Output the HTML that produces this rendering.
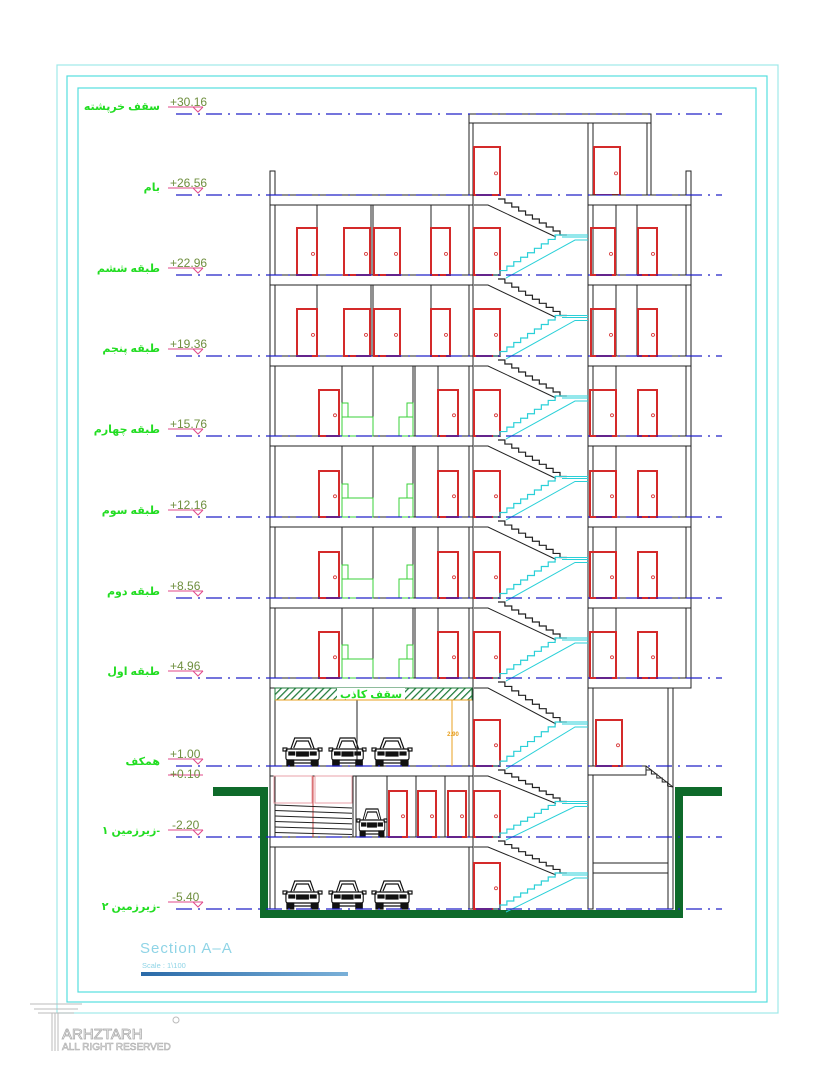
<!DOCTYPE html>
<html><head><meta charset="utf-8">
<style>
html,body{margin:0;padding:0;background:#fff;}
svg{display:block;}
.lbl{font-family:"Liberation Sans","DejaVu Sans",sans-serif;font-weight:bold;font-size:11px;fill:#22dd22;}
.val{font-family:"Liberation Sans",sans-serif;font-size:12px;fill:#6f8f3f;}
</style></head>
<body>
<svg id="s" width="835" height="1080" viewBox="0 0 835 1080" xmlns="http://www.w3.org/2000/svg">
<defs>
<pattern id="hatch" width="5" height="5" patternUnits="userSpaceOnUse" patternTransform="rotate(45)">
<rect width="5" height="5" fill="#fff"/><line x1="0" y1="0" x2="0" y2="5" stroke="#1e7a3a" stroke-width="2.5"/>
</pattern>
<linearGradient id="bar" x1="0" x2="1"><stop offset="0" stop-color="#2a6aa8"/><stop offset="1" stop-color="#7ab0d8"/></linearGradient>
</defs>
<rect x="57" y="65" width="721" height="948" fill="none" stroke="#9fe8e8" stroke-width="1.2"/>
<rect x="67" y="76" width="700" height="926" fill="none" stroke="#55dede" stroke-width="1.2"/>
<rect x="78" y="88" width="678" height="904" fill="none" stroke="#55dede" stroke-width="1.2"/>
<g id="g"></g>
<g text-anchor="end">
<text class="lbl" x="160" y="110">سقف خرپشته</text>
<text class="lbl" x="160" y="191">بام</text>
<text class="lbl" x="160" y="272">طبقه ششم</text>
<text class="lbl" x="160" y="352">طبقه پنجم</text>
<text class="lbl" x="160" y="433">طبقه چهارم</text>
<text class="lbl" x="160" y="514">طبقه سوم</text>
<text class="lbl" x="160" y="595">طبقه دوم</text>
<text class="lbl" x="160" y="675">طبقه اول</text>
<text class="lbl" x="160" y="765">همکف</text>
<text class="lbl" x="160" y="834">زیرزمین ۱-</text>
<text class="lbl" x="160" y="910">زیرزمین ۲-</text>
</g>
<g>
<text class="val" x="170" y="106">+30.16</text>
<text class="val" x="170" y="187">+26.56</text>
<text class="val" x="170" y="267">+22.96</text>
<text class="val" x="170" y="348">+19.36</text>
<text class="val" x="170" y="428">+15.76</text>
<text class="val" x="170" y="509">+12.16</text>
<text class="val" x="170" y="590">+8.56</text>
<text class="val" x="170" y="670">+4.96</text>
<text class="val" x="170" y="758">+1.00</text>
<text class="val" x="170" y="778">+0.10</text>
<text class="val" x="172" y="829">-2.20</text>
<text class="val" x="172" y="901">-5.40</text>
</g>
<rect x="275" y="688" width="197" height="12" fill="url(#hatch)" stroke="#1e7a3a" stroke-width="1"/>
<rect x="337" y="688" width="68" height="12" fill="#fff"/>
<text x="371" y="698" text-anchor="middle" style="font-family:'Liberation Sans','DejaVu Sans',sans-serif;font-size:11px;font-weight:bold;fill:#22dd22">سقف کاذب</text>
<line x1="275" y1="700" x2="472" y2="700" stroke="#e8a020" stroke-width="1"/>
<line x1="452" y1="700" x2="452" y2="766" stroke="#e8a020" stroke-width="1"/>
<text x="453" y="736" text-anchor="middle" style="font-family:'Liberation Sans',sans-serif;font-size:6px;font-weight:bold;fill:#e8a020">2.90</text>
<text x="140" y="953" style="font-family:'Liberation Sans',sans-serif;font-size:15px;fill:#8fd4e6;letter-spacing:1px">Section A–A</text>
<text x="142" y="968" style="font-family:'Liberation Sans',sans-serif;font-size:7.5px;fill:#8fd4e6">Scale : 1\100</text>
<rect x="141" y="972" width="207" height="4" fill="url(#bar)"/>
<g fill="none" stroke="#bbb" stroke-width="1">
<line x1="30" y1="1004" x2="82" y2="1004"/><line x1="34" y1="1009" x2="78" y2="1009"/><line x1="38" y1="1013" x2="74" y2="1013"/>
<line x1="52" y1="1013" x2="52" y2="1051"/><line x1="55" y1="1013" x2="55" y2="1051"/><line x1="58" y1="1013" x2="58" y2="1051"/>
<circle cx="176" cy="1020" r="3"/>
</g>
<text x="62" y="1039" style="font-family:'Liberation Sans',sans-serif;font-size:15px;fill:#fff;stroke:#aaa;stroke-width:0.8">ARHZTARH</text>
<text x="62" y="1050" style="font-family:'Liberation Sans',sans-serif;font-size:10px;fill:#fff;stroke:#aaa;stroke-width:0.6">ALL RIGHT RESERVED</text>
</svg>
<script>
(function(){
var g=document.getElementById('g'),h='';
function L(x1,y1,x2,y2,c,w,d){h+='<line x1="'+x1+'" y1="'+y1+'" x2="'+x2+'" y2="'+y2+'" stroke="'+(c||'#222')+'" stroke-width="'+(w||1)+'"'+(d?' stroke-dasharray="'+d+'"':'')+'/>';}
function R(x,y,w,hh,c,f,sw){h+='<rect x="'+x+'" y="'+y+'" width="'+w+'" height="'+hh+'" fill="'+(f||'#fff')+'" stroke="'+(c||'#222')+'" stroke-width="'+(sw||1)+'"/>';}
function P(pts,c,w){h+='<polyline points="'+pts+'" fill="none" stroke="'+c+'" stroke-width="'+(w||1)+'"/>';}
function door(x,y,w,b){R(x,y,w,b-y,'#d42a2a','none',2);h+='<circle cx="'+(x+w-4)+'" cy="'+(y+(b-y)*0.55)+'" r="1.5" fill="none" stroke="#d42a2a" stroke-width="0.8"/>';}
var F=[195,275,356,436,517,598,678,766,837,909];
R(213,787,55,9,'none','#0e6a2a');R(260,787,8,131,'none','#0e6a2a');R(260,910,423,8,'none','#0e6a2a');R(675,787,8,131,'none','#0e6a2a');R(675,787,47,9,'none','#0e6a2a');
R(469,114,182,9);R(469,123,4,72);R(647,123,4,72);R(588,123,5,72);
door(474,147,26,195);door(594,147,26,195);
R(270,171,5,738);R(686,171,5,517);
R(469,195,4,714);R(588,195,5,483);
R(588,688,5,221);R(668,688,5,221);
for(var i=0;i<7;i++){R(270,F[i],203,10);R(588,F[i],103,10);}
R(270,766,203,10);R(270,837,203,10);
R(588,766,58,9);P('646,766 673,787 673,775','#222',1);
R(593,863,75,10);
var sp='';for(var k=0;k<5;k++){sp+=(646+k*5.4)+','+(766+k*4)+' '+(646+k*5.4)+','+(770+k*4)+' ';}P(sp+'673,787','#222',1);
[[195,275],[275,356]].forEach(function(p){var t=p[0]+10,b=p[1];
[317,431,616,637].forEach(function(x){L(x,t,x,b);});R(371,t,2,b-t);
door(297,b-47,20,b);door(344,b-47,26,b);door(374,b-47,26,b);door(431,b-47,19,b);door(474,b-47,26,b);door(591,b-47,24,b);door(638,b-47,19,b);});
[[356,436],[436,517],[517,598],[598,678]].forEach(function(p){var t=p[0]+10,b=p[1];
[342,373,438,616].forEach(function(x){L(x,t,x,b);});R(413,t,2,b-t);
door(319,b-46,20,b);door(438,b-46,20,b);door(474,b-46,26,b);door(590,b-46,26,b);door(638,b-46,19,b);
R(342,b-33,6,14,'#3ad03a','none',1);R(342,b-19,31,19,'#3ad03a','none',1);
R(407,b-33,6,14,'#3ad03a','none',1);R(399,b-19,14,19,'#3ad03a','none',1);});
L(357,700,357,766);door(474,720,26,766);door(596,720,26,766);
R(353,776,3,61);[387,416,445].forEach(function(x){L(x,776,x,837);});
door(389,791,18,837);door(418,791,18,837);door(448,791,18,837);door(474,791,26,837);
R(274,776,38,27,'#e8a0a8','none',1);R(315,776,37,27,'#e8a0a8','none',1);L(313,776,313,837,'#c44',1);
for(var s=0;s<6;s++){L(275,805+s*5.5,352,808+s*5.3,'#222',1);}
door(474,863,26,909);
for(var i=0;i<9;i++){var T=F[i],B=F[i+1],hh=B-T,Lm=T+hh/2;
 var n=9,pts='';for(var k=0;k<=n;k++){var x=498+k*(62/n),y=T+4+k*((Lm-T-4)/n);pts+=x+','+y+' '+(x+62/n)+','+y+' ';}
 P(pts,'#222',1.2);P('474,'+(T+10)+' 488,'+(T+10)+' 556,'+(Lm+2),'#222',1);
 pts='';for(var k=0;k<=n;k++){var x=562-k*(62/n),y=Lm+k*((B-Lm)/n);pts+=x+','+y+' '+(x-62/n)+','+y+' ';}
 P(pts,'#2ad0d8',1.2);P('588,'+(Lm+5)+' 575,'+(Lm+5)+' 506,'+(B+3),'#2ad0d8',1);
 L(562,Lm,588,Lm,'#2ad0d8',1);L(562,Lm+2,588,Lm+2,'#2ad0d8',1);}
function car(x,b,w){var c='#111';var s=w/40;
 h+='<g transform="translate('+x+','+(b-31)+') scale('+s+',1)" fill="none" stroke="'+c+'" stroke-width="1.2">'+
 '<path d="M8 14 L12 3 L28 3 L32 14"/><path d="M11 13 L14 6 L26 6 L29 13"/><rect x="3" y="14" width="34" height="11" rx="2"/>'+
 '<rect x="0" y="13" width="4" height="3"/><rect x="36" y="13" width="4" height="3"/><rect x="6" y="17" width="6" height="3" fill="#111"/><rect x="28" y="17" width="6" height="3" fill="#111"/>'+
 '<rect x="14" y="17" width="12" height="4" fill="#111"/><rect x="4" y="25" width="7" height="6" fill="#111"/><rect x="29" y="25" width="7" height="6" fill="#111"/><line x1="10" y1="28" x2="30" y2="28"/></g>';}
[[283,39],[329,37],[372,40]].forEach(function(c){car(c[0],766,c[1]);car(c[0],909,c[1]);});
car(357,837,30);
[114,195,275,356,436,517,598,678,766,837,909].forEach(function(y){L(176,y,722,y,'#2020c8',1.2,'16,6,2,6');L(168,y-7,203,y-7,'#e04a8a',1);P('193,'+(y-7)+' 198,'+(y-2)+' 203,'+(y-7),'#e04a8a');});
L(168,775,203,775,'#e04a8a',1);
g.innerHTML=h;
})();
</script>
</body></html>
